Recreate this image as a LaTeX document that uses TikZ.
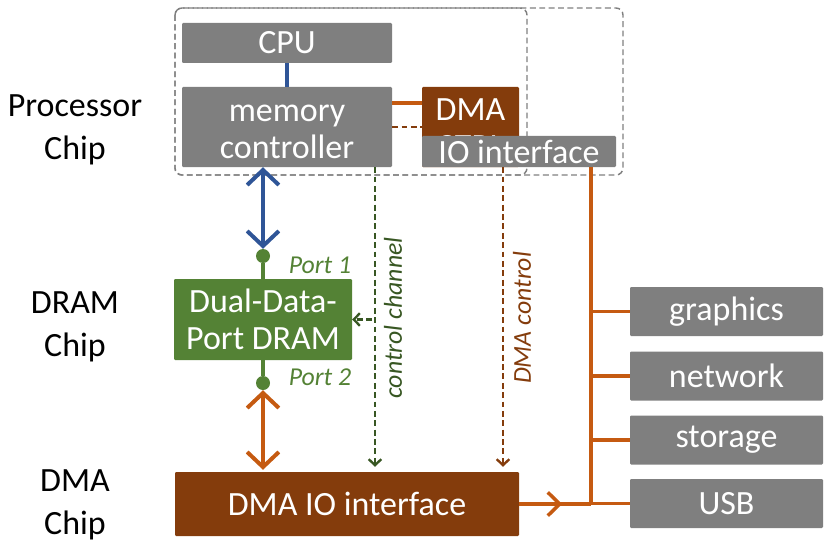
\documentclass[tikz,border=0pt]{standalone}
\usepackage{fontspec}
\setmainfont{Carlito}
\usepackage{xcolor}
\usepackage{tikz}
\usetikzlibrary{calc}
\usetikzlibrary{arrows.meta,positioning,decorations.markings}

\definecolor{boxgray}{HTML}{7F7F7F}
\definecolor{busblue}{HTML}{2F5597}
\definecolor{busorange}{HTML}{C55A11}
\definecolor{ctrlbrown}{HTML}{843C0C}
\definecolor{dramgreen}{HTML}{548235}
\definecolor{ctrlgreen}{HTML}{385723}

\newcommand{\boxfont}{\fontsize{29}{32}\selectfont}
\newcommand{\chipfont}{\fontsize{29}{37}\selectfont}
\newcommand{\portfont}{\fontsize{22}{24}\selectfont\itshape}

\tikzset{
	unitbox/.style={fill=boxgray,text=white,rounded corners=1pt,inner sep=0pt,align=center,font=\boxfont},
	boxtext/.style={text=white,inner sep=0pt,align=center,font=\boxfont},
	chipbox/.style={draw=boxgray,line width=1.2pt,dash pattern=on 5pt off 3pt,rounded corners=6pt},
	portdot/.style={circle,fill=dramgreen,inner sep=0pt,minimum size=4.2mm},
	bigbarb/.style={line width=3.4pt,arrows={Straight Barb[length=4.5mm,width=9.5mm]-Straight Barb[length=4.5mm,width=9.5mm]}},
	ctrldash/.style={line width=2pt,dash pattern=on 5pt off 3pt,-{Straight Barb[length=1.8mm,width=3.8mm]}},
	midarrow/.style={postaction={decorate},decoration={markings,
		mark=at position 0.6 with {\arrow{Straight Barb[length=3.6mm,width=7mm]}}}}
}

\begin{document}
\begin{tikzpicture}[x=0.3mm,y=-0.3mm]
	\useasboundingbox (0,0) rectangle (831,547);
	% chip outlines
	\draw[chipbox] (175,8) rectangle (623,175);
	\draw[chipbox] (175,8) rectangle (527,175);
	\node[font=\chipfont,align=center] (procchip) at (75,130) {Processor\\Chip};
	\node[font=\chipfont,align=center] (dramchip) at (75,327) {DRAM\\Chip};
	\node[font=\chipfont,align=center] (dmachip) at (75,505) {DMA\\Chip};

	\node[unitbox,minimum width=63mm,minimum height=12mm] (cpu) at (287,43) {CPU};
	\node[unitbox,minimum width=63mm,minimum height=24mm] (memctrl) at (287,127) {};
	\node[boxtext] (memctrltext) at ([yshift=-1.5mm]memctrl.center) {memory\\controller};
	\node[unitbox,fill=ctrlbrown,minimum width=29.1mm,minimum height=24mm] (dmactrl) at (470.5,127) {};
	\node[boxtext] (dmactrltext) at ([yshift=-0.3mm]dmactrl.center) {DMA\\CTRL};
	\node[unitbox,minimum width=58.2mm,minimum height=9.3mm] (iointf) at (519,151.5) {IO interface};
	\node[unitbox,fill=dramgreen,minimum width=53.4mm,minimum height=24.3mm] (dram) at (263,319.5) {Dual-Data-\\Port DRAM};
	\node[unitbox,fill=ctrlbrown,minimum width=103.2mm,minimum height=19.2mm] (dmaio) at (347,504) {DMA IO interface};

	\node[unitbox,minimum width=57.9mm,minimum height=14.7mm] (graphics) at (726.5,311.5) {graphics};
	\node[unitbox,minimum width=57.9mm,minimum height=14.7mm] (network) at (726.5,376) {network};
	\node[unitbox,minimum width=57.9mm,minimum height=14.7mm] (storage) at (726.5,440) {storage};
	\node[unitbox,minimum width=57.9mm,minimum height=14.7mm] (usb) at (726.5,503.5) {USB};

	\node[portdot] (port1) at (263,256) {};
	\node[portdot] (port2) at (263,383) {};
	\node[text=dramgreen,font=\portfont] (p1label) at (320,265) {Port 1};
	\node[text=dramgreen,font=\portfont] (p2label) at (320,377) {Port 2};

	\coordinate (ctrlx) at (375,0);
	\coordinate (dmax) at (503,0);
	\coordinate (busx) at (591,0);

	% processor chip wiring
	\draw[busblue,line width=3.4pt] (cpu) -- (memctrl);
	\draw[busorange,line width=3pt] ([yshift=7.2mm]memctrl.east) -- ([yshift=7.2mm]dmactrl.west);
	\draw[ctrlbrown,line width=2pt,dash pattern=on 5pt off 3pt] (memctrl.east) -- (dmactrl.west);

	% data ports
	\draw[busblue,bigbarb] (port1 |- memctrl.south) -- (port1);
	\draw[dramgreen,line width=3pt] (port1) -- (dram);
	\draw[dramgreen,line width=3pt] (dram) -- (port2);
	\draw[busorange,bigbarb] (port2) -- ([yshift=0.6mm]port2 |- dmaio.north);

	% control lines
	\draw[ctrlgreen,ctrldash,shorten >=1.5mm] (ctrlx |- memctrl.south) -- (ctrlx |- dmaio.north);
	\draw[ctrlgreen,ctrldash] ([xshift=-0.9mm]ctrlx |- dram.east) -- (dram.east);
	\draw[ctrlbrown,ctrldash,shorten >=1.5mm] (dmax |- iointf.south) -- (dmax |- dmaio.north);
	\node[rotate=90,text=ctrlgreen,font=\portfont] (ctrllabel) at (393,318) {control channel};
	\node[rotate=90,text=ctrlbrown,font=\portfont] (dmalabel) at (522,318) {DMA control};

	% IO bus
	\draw[busorange,line width=3pt] (busx |- iointf.south) -- (busx |- usb.west);
	\foreach \dev in {graphics,network,storage,usb}
		\draw[busorange,line width=3pt] (busx |- \dev.west) -- (\dev.west);
	\draw[busorange,line width=3pt,midarrow] (dmaio.east) -- (busx |- dmaio.east);
\end{tikzpicture}
\end{document}
